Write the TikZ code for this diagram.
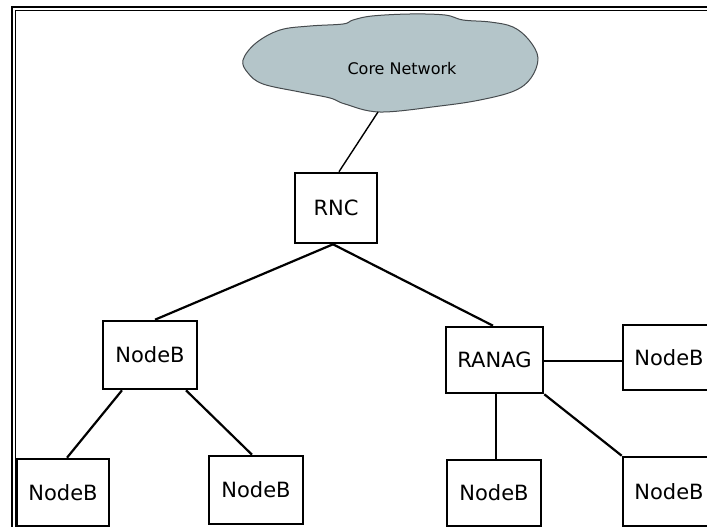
\documentclass[tikz,border=0pt]{standalone}
\usepackage{fontspec}
\setmainfont{DejaVu Sans}
\usetikzlibrary{calc}
\definecolor{cloudfill}{RGB}{180,197,201}
\definecolor{cloudline}{RGB}{70,75,78}
\tikzset{
  box/.style={draw=black, line width=2.6pt, fill=white, inner sep=0pt,
    font=\fontsize{21}{25}\selectfont},
  link/.style={draw=black, line width=2.2pt},
  thinlink/.style={draw=black, line width=1.4pt},
}
\begin{document}
\begin{tikzpicture}[x=1pt,y=-1pt]
\useasboundingbox (0,0) rectangle (707,527);
\clip (0,0) rectangle (707,527);
\fill[white] (0,0) rectangle (707,527);
% frame
\draw[line width=2.4pt] (12,7) rectangle (730,560);
\draw[line width=1.3pt] (15.5,10.2) rectangle (726,556);
% cloud
\draw[cloudline, line width=1pt, fill=cloudfill, smooth cycle, tension=0.6]
  plot coordinates {(243,60) (256,43) (280,30) (310,26) (343,24) (353,20) (372,16)
    (410,14) (445,15) (463,20) (490,22) (513,27) (529,40) (538,58) (531,78)
    (514,91) (480,100) (440,106) (380,112) (345,104) (330,98) (300,92)
    (263,84) (248,73)};
\node[font=\fontsize{16}{19}\selectfont] (core) at (402,69) {Core Network};
\coordinate (cloudbot) at (378,112);
% nodes
\node[box, minimum width=82pt, minimum height=70pt] (rnc) at (336,208) {RNC};
\node[box, minimum width=94pt, minimum height=68pt] (nbL) at (150,355) {NodeB};
\node[box, minimum width=97pt, minimum height=66pt] (ranag) at (494.5,360) {RANAG};
\node[box, minimum width=92pt, minimum height=65pt] (nbR) at (669,357.5) {NodeB};
\node[box, minimum width=92pt, minimum height=67pt] (nb1) at (63,492.5) {NodeB};
\node[box, minimum width=94pt, minimum height=68pt] (nb2) at (256,490) {NodeB};
\node[box, minimum width=94pt, minimum height=66pt] (nb3) at (494,493) {NodeB};
\node[box, minimum width=92pt, minimum height=69pt] (nb4) at (669,491.5) {NodeB};
% connectors
\draw[thinlink] (cloudbot) -- ($(rnc.north)+(3,0)$);
\draw[link] ($(rnc.south)+(-3,0)$) -- ($(nbL.north)+(5,0)$);
\draw[link] ($(rnc.south)+(-3,0)$) -- ($(ranag.north)+(-1.5,0)$);
\draw[link] ($(nbL.south)+(-28,0)$) -- ($(nb1.north)+(4,0)$);
\draw[link] ($(nbL.south)+(36,0)$) -- ($(nb2.north)+(-4,0)$);
\draw[link] ($(ranag.east)+(0,1)$) -- ($(ranag.east -| nbR.west)+(0,1)$);
\draw[link] ($(ranag.south)+(1.5,0)$) -- ($(ranag.south |- nb3.north)+(1.5,0)$);
\draw[link] (ranag.south east) -- (nb4.north west);
\end{tikzpicture}
\end{document}
